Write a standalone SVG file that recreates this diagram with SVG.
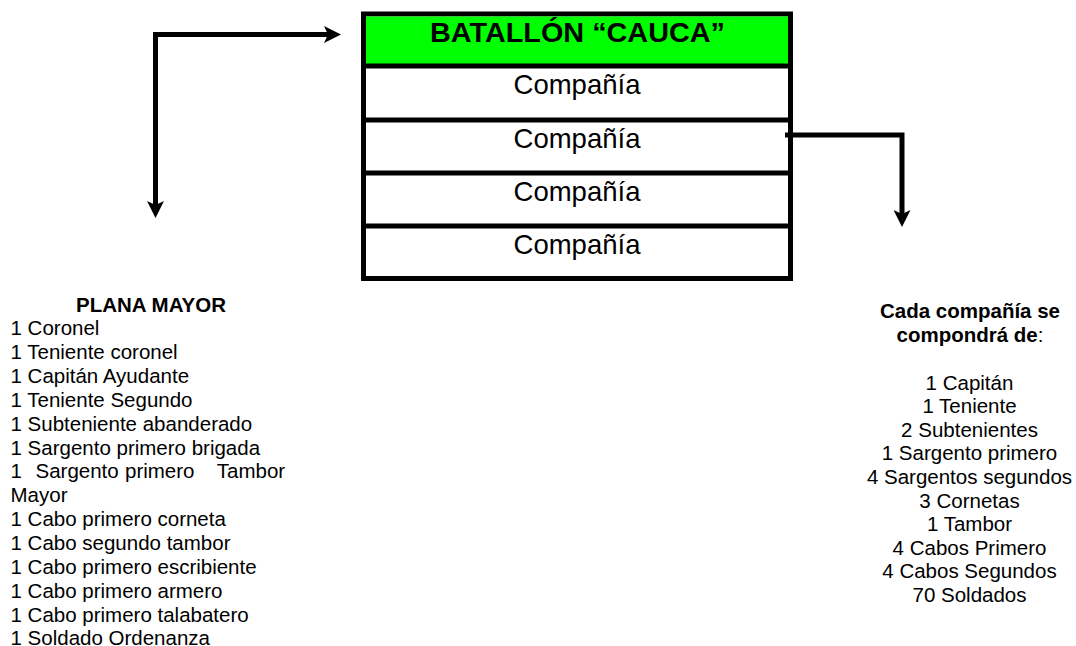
<svg xmlns="http://www.w3.org/2000/svg" width="1076" height="646" viewBox="0 0 1076 646">
<style>
  text { font-family: "Liberation Sans", Arial, sans-serif; fill: #000; }
  .title { font-size: 27px; font-weight: bold; text-anchor: middle; }
  .row { font-size: 27.5px; text-anchor: middle; }
  .head { font-size: 20.5px; font-weight: bold; }
  .item { font-size: 20.5px; }
  .ctr { text-anchor: middle; }
  .box { fill: #ffffff; stroke: #000; stroke-width: 5; }
  .div { stroke: #000; stroke-width: 5; }
  .conn { fill: none; stroke: #000; stroke-width: 5; }
</style>
<defs>
  <marker id="arrow" viewBox="0 0 17 17" markerWidth="17" markerHeight="17" markerUnits="userSpaceOnUse" refX="4" refY="8.5" orient="auto">
    <path d="M0,0 L17,8.5 L0,17 L4,8.5 Z" fill="#000"/>
  </marker>
</defs>
<rect width="1076" height="646" fill="#ffffff"/>

<g id="batallon">
  <rect class="box" x="363.5" y="14" width="427" height="264.5"/>
  <rect x="366" y="16.5" width="422" height="49.5" fill="#00ff00"/>
  <line class="div" x1="363.5" y1="66" x2="790.5" y2="66"/>
  <line class="div" x1="363.5" y1="120" x2="790.5" y2="120"/>
  <line class="div" x1="363.5" y1="173" x2="790.5" y2="173"/>
  <line class="div" x1="363.5" y1="226" x2="790.5" y2="226"/>
  <text class="title" x="577.5" y="42" textLength="295" lengthAdjust="spacingAndGlyphs">BATALLÓN “CAUCA”</text>
  <text class="row" x="577" y="94">Compañía</text>
  <text class="row" x="577" y="147.5">Compañía</text>
  <text class="row" x="577" y="200.5">Compañía</text>
  <text class="row" x="577" y="253.5">Compañía</text>
</g>

<g id="plana-mayor">
  <text class="head ctr" x="151" y="312">PLANA MAYOR</text>
  <text class="item" x="10.5" y="335">1 Coronel</text>
  <text class="item" x="10.5" y="358.9">1 Teniente coronel</text>
  <text class="item" x="10.5" y="382.8">1 Capitán Ayudante</text>
  <text class="item" x="10.5" y="406.7">1 Teniente Segundo</text>
  <text class="item" x="10.5" y="430.6">1 Subteniente abanderado</text>
  <text class="item" x="10.5" y="454.5">1 Sargento primero brigada</text>
  <text class="item" y="478.4"><tspan x="10.5">1</tspan><tspan x="35.5">Sargento</tspan><tspan x="125">primero</tspan><tspan x="216.8">Tambor</tspan></text>
  <text class="item" x="10.5" y="502.3">Mayor</text>
  <text class="item" x="10.5" y="526.2">1 Cabo primero corneta</text>
  <text class="item" x="10.5" y="550.1">1 Cabo segundo tambor</text>
  <text class="item" x="10.5" y="574">1 Cabo primero escribiente</text>
  <text class="item" x="10.5" y="597.9">1 Cabo primero armero</text>
  <text class="item" x="10.5" y="621.8">1 Cabo primero talabatero</text>
  <text class="item" x="10.5" y="644.5">1 Soldado Ordenanza</text>
</g>

<g id="compania">
  <text class="head ctr" x="970" y="318">Cada compañía se</text>
  <text class="head ctr" x="970" y="341.5">compondrá de<tspan font-weight="normal">:</tspan></text>
  <text class="item ctr" x="969.5" y="389.5">1 Capitán</text>
  <text class="item ctr" x="969.5" y="413.1">1 Teniente</text>
  <text class="item ctr" x="969.5" y="436.7">2 Subtenientes</text>
  <text class="item ctr" x="969.5" y="460.3">1 Sargento primero</text>
  <text class="item ctr" x="969.5" y="483.9">4 Sargentos segundos</text>
  <text class="item ctr" x="969.5" y="507.5">3 Cornetas</text>
  <text class="item ctr" x="969.5" y="531.1">1 Tambor</text>
  <text class="item ctr" x="969.5" y="554.7">4 Cabos Primero</text>
  <text class="item ctr" x="969.5" y="578.3">4 Cabos Segundos</text>
  <text class="item ctr" x="969.5" y="601.9">70 Soldados</text>
</g>

<g id="connectors">
  <path class="conn" d="M155.5,205 V34.5 H328" marker-end="url(#arrow)"/>
  <path class="conn" d="M155.5,40 V205" marker-end="url(#arrow)"/>
  <path class="conn" d="M785,135 H902 V214" marker-end="url(#arrow)"/>
</g>
</svg>
